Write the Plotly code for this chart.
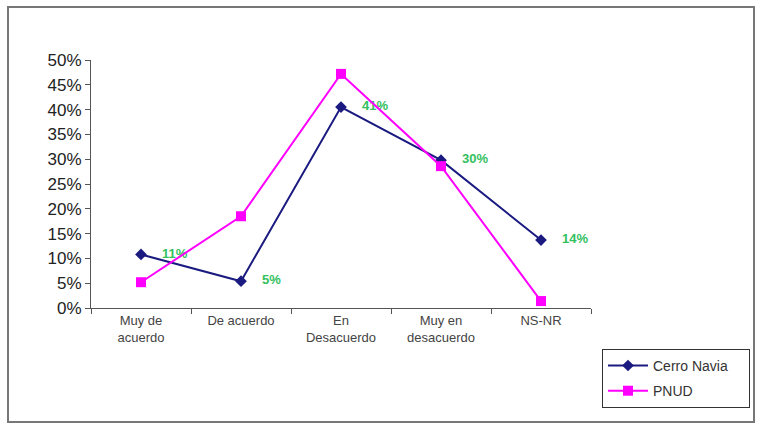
import plotly.graph_objects as go

# Categorías y valores (%)
categorias = ['Muy de<br>acuerdo', 'De acuerdo', 'En<br>Desacuerdo', 'Muy en<br>desacuerdo', 'NS-NR']
cerro_navia = [10.8, 5.4, 40.5, 29.8, 13.7]
pnud = [5.2, 18.5, 47.2, 28.6, 1.4]
etiquetas_cn = ['11%', '5%', '41%', '30%', '14%']

fig = go.Figure()

fig.add_trace(go.Scatter(
    x=categorias, y=cerro_navia, name='Cerro Navia' + '\u00a0' * 4, legendgroup='cn',
    mode='lines+markers+text',
    line=dict(color='#1A1A80', width=2),
    marker=dict(symbol='diamond', size=9, color='#1A1A80'),
    text=['    <b>' + t + '</b>' for t in etiquetas_cn], textposition='middle right',
    textfont=dict(color='#33C060', size=13, family='Arial, Liberation Sans'),
))

fig.add_trace(go.Scatter(
    x=categorias, y=pnud, name='PNUD', legendgroup='pnud',
    mode='lines+markers',
    line=dict(color='#FF00FF', width=2),
    marker=dict(symbol='square', size=10, color='#FF00FF'),
))

fig.update_layout(
    width=758, height=424,
    margin=dict(l=91, r=167, t=60, b=116, autoexpand=False),
    paper_bgcolor='white', plot_bgcolor='white',
    font=dict(family='Arial, Liberation Sans', color='#333333'),
    showlegend=True,
    legend=dict(x=1.022, y=-0.165, xanchor='left', yanchor='top',
                bordercolor='#333333', borderwidth=1, bgcolor='white',
                font=dict(size=14, color='#333333'), tracegroupgap=4, itemwidth=40),
    xaxis=dict(type='category', tickson='boundaries', ticks='outside', ticklen=5,
               tickcolor='#555555', showline=True, linecolor='#555555', linewidth=1,
               showgrid=False, tickfont=dict(size=13, color='#444444'),
               range=[-0.5, 4.5]),
    yaxis=dict(range=[0, 50], dtick=5, ticksuffix='%', ticks='outside', ticklen=5,
               tickcolor='#555555', showline=True, linecolor='#555555', linewidth=1,
               showgrid=False, zeroline=False, tickfont=dict(size=17, color='#222222')),
    shapes=[dict(type='rect', xref='paper', yref='paper',
                 x0=-0.166, x1=1.326, y0=-0.46, y1=1.214,
                 line=dict(color='#777777', width=2))],
)

fig.write_html('out.html', config={'displayModeBar': False},
               post_script="document.body.style.margin='0';")
